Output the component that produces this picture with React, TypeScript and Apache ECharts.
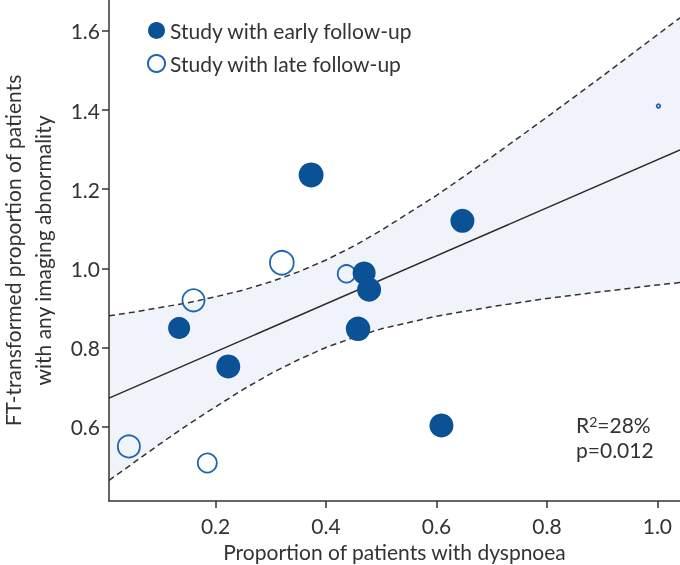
import React, { useEffect, useRef } from "react";
import * as echarts from "echarts";

// ---- data ----
const earlyX = [0.373, 0.647, 0.469, 0.478, 0.458, 0.609, 0.134, 0.223];
const earlyY = [1.236, 1.12, 0.988, 0.946, 0.847, 0.603, 0.849, 0.752];
const earlyWeight = [1.04, 1.0, 0.96, 1.0, 1.02, 1.0, 0.92, 1.0];

const lateX = [0.32, 0.16, 0.437, 0.043, 0.185, 1.002];
const lateY = [1.014, 0.919, 0.986, 0.55, 0.508, 1.41];
const lateWeight = [0.99, 0.92, 0.73, 0.92, 0.79, 0.15];

const regX = [0.007, 1.041];
const regY = [0.672, 1.299];

const ciX = [0.007, 0.05, 0.1, 0.15, 0.2, 0.25, 0.3, 0.35, 0.4, 0.45, 0.5, 0.6, 0.7, 0.8, 0.9, 1.0, 1.041];
const ciUpper = [0.88, 0.889, 0.901, 0.913, 0.928, 0.945, 0.966, 0.991, 1.021, 1.056, 1.096, 1.184, 1.281, 1.382, 1.485, 1.59, 1.633];
const ciLower = [0.464, 0.507, 0.557, 0.605, 0.65, 0.694, 0.734, 0.769, 0.8, 0.825, 0.847, 0.879, 0.903, 0.924, 0.941, 0.958, 0.964];

const xTicks = [0.2, 0.4, 0.6, 0.8, 1.0];
const yTicks = [0.6, 0.8, 1.0, 1.2, 1.4, 1.6];

const seriesNames = ["Study with early follow-up", "Study with late follow-up"];
const xTitle = "Proportion of patients with dyspnoea";
const yTitle = "FT-transformed proportion of patients\nwith any imaging abnormality";
const statR = "R{s|2}=28%";
const statP = "p=0.012";

const FONT = "Lato, 'Noto Sans', sans-serif";
const FS = 21;
const TEXT = "#333333";
const AXIS = "#333333";
const FILL = "#0b5196";
const OPEN = "#1c66ad";
const BASE_SIZE = 24;

export default function App() {
  const ref = useRef<HTMLDivElement>(null);
  useEffect(() => {
    if (!ref.current) return;
    const chart = echarts.init(ref.current, undefined, { renderer: "svg" });
    const early = earlyX.map((x, i) => [x, earlyY[i], earlyWeight[i]]);
    const late = lateX.map((x, i) => [x, lateY[i], lateWeight[i]]);
    const upper = ciX.map((x, i) => [x, ciUpper[i]]);
    const lower = ciX.map((x, i) => [x, ciLower[i]]);
    const reg = regX.map((x, i) => [x, regY[i]]);
    const dashed = { color: AXIS, width: 1.5, type: [6, 4] as any };

    chart.setOption({
      animation: false,
      textStyle: { fontFamily: FONT },
      grid: { left: 109, right: 0, top: 0, bottom: 64, outerBoundsMode: "none", containLabel: false },
      legend: {
        data: seriesNames,
        orient: "vertical",
        left: 142,
        top: 15,
        itemWidth: 17,
        itemHeight: 17,
        itemGap: 12,
        icon: "circle",
        textStyle: { fontSize: FS, color: TEXT, fontFamily: FONT },
      },
      xAxis: {
        type: "value",
        min: 0.007,
        max: 1.041,
        name: xTitle,
        nameLocation: "middle",
        nameGap: 40,
        nameTextStyle: { fontSize: FS, color: TEXT, fontFamily: FONT },
        axisLine: { lineStyle: { color: AXIS, width: 1.5 } },
        axisTick: { show: true, length: 7, lineStyle: { color: AXIS, width: 1.5 }, customValues: xTicks },
        axisLabel: {
          customValues: xTicks,
          margin: 14,
          fontSize: FS,
          color: TEXT,
          fontFamily: FONT,
          formatter: (v: number) => v.toFixed(1),
        },
        splitLine: { show: false },
      },
      yAxis: {
        type: "value",
        min: 0.412,
        max: 1.678,
        name: yTitle,
        nameLocation: "middle",
        nameGap: 52,
        nameTextStyle: { fontSize: FS, color: TEXT, lineHeight: 30, fontFamily: FONT },
        axisLine: { show: true, lineStyle: { color: AXIS, width: 1.5 } },
        axisTick: { show: true, length: 7, lineStyle: { color: AXIS, width: 1.5 }, customValues: yTicks },
        axisLabel: {
          customValues: yTicks,
          margin: 9,
          fontSize: FS,
          color: TEXT,
          fontFamily: FONT,
          formatter: (v: number) => v.toFixed(1),
        },
        splitLine: { show: false },
      },
      series: [
        {
          type: "custom",
          silent: true,
          z: 0,
          data: [[0.5, 1]],
          renderItem: (_p: any, api: any) => {
            const pts: number[][] = [];
            ciX.forEach((x, i) => pts.push(api.coord([x, ciUpper[i]])));
            for (let i = ciX.length - 1; i >= 0; i--) pts.push(api.coord([ciX[i], ciLower[i]]));
            return { type: "polygon", shape: { points: pts }, style: { fill: "#f0f3fa" } };
          },
        },
        { type: "line", data: upper, symbol: "none", lineStyle: dashed, z: 1, silent: true },
        { type: "line", data: lower, symbol: "none", lineStyle: dashed, z: 1, silent: true },
        { type: "line", data: reg, symbol: "none", lineStyle: { color: "#2a2a2a", width: 1.5 }, z: 1, silent: true },
        {
          name: seriesNames[1],
          type: "scatter",
          data: late,
          z: 2,
          symbol: "circle",
          symbolSize: (d: number[]) => BASE_SIZE * d[2],
          itemStyle: { color: "transparent", borderColor: OPEN, borderWidth: 1.8, opacity: 1 },
        },
        {
          name: seriesNames[0],
          type: "scatter",
          data: early,
          z: 3,
          symbol: "circle",
          symbolSize: (d: number[]) => BASE_SIZE * d[2],
          itemStyle: { color: FILL, opacity: 1 },
        },
      ],
      graphic: [
        {
          type: "text",
          left: 576,
          top: 414,
          style: {
            text: statR,
            fill: TEXT,
            fontFamily: FONT,
            fontSize: FS,
            rich: {
              s: { fontSize: 14, verticalAlign: "top", lineHeight: 14, fill: TEXT, fontFamily: FONT },
            },
          },
        },
        {
          type: "text",
          left: 576,
          top: 439,
          style: { text: statP, fontSize: FS, fill: TEXT, fontFamily: FONT },
        },
      ],
    });
    return () => chart.dispose();
  }, []);
  return <div ref={ref} style={{ position: "fixed", left: 0, top: 0, width: 680, height: 565 }} />;
}
